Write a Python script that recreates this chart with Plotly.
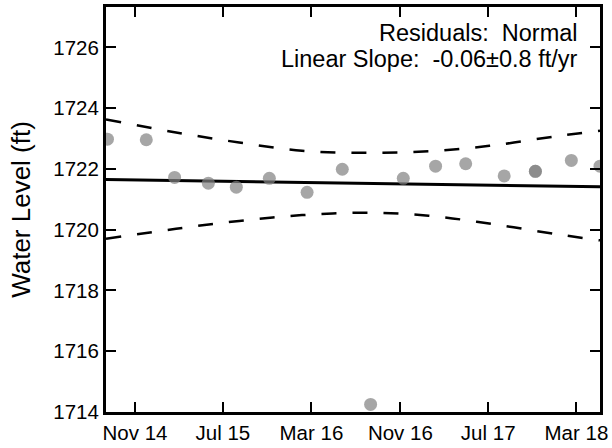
import plotly.graph_objects as go

# Observations
obs_dates = ["2014-08-17", "2014-12-02", "2015-02-18", "2015-05-22", "2015-08-07",
             "2015-11-06", "2016-02-18", "2016-05-25", "2016-08-11", "2016-11-09",
             "2017-02-06", "2017-04-30", "2017-08-14", "2017-11-08", "2017-11-08",
             "2018-02-15", "2018-05-05"]
obs_levels = [1722.98, 1722.96, 1721.72, 1721.53, 1721.40,
              1721.69, 1721.23, 1721.99, 1714.25, 1721.69,
              1722.09, 1722.17, 1721.77, 1721.92, 1721.92,
              1722.28, 1722.09]

# Linear trend (values at plot edges)
trend_dates = ["2014-08-13", "2018-05-05"]
trend_levels = [1721.65, 1721.41]

# Confidence band
band_dates = ["2014-08-13", "2015-02-22", "2015-08-15", "2016-02-04", "2016-07-28",
              "2017-01-18", "2017-07-11", "2018-01-01", "2018-05-05"]
band_upper = [1723.63, 1723.20, 1722.87, 1722.60, 1722.53,
              1722.58, 1722.77, 1723.07, 1723.26]
band_lower = [1719.70, 1720.03, 1720.29, 1720.48, 1720.56,
              1720.46, 1720.19, 1719.86, 1719.65]

tick_dates = ["2014-11-01", "2015-07-01", "2016-03-01", "2016-11-01", "2017-07-01", "2018-03-01"]
tick_labels = ["Nov 14", "Jul 15", "Mar 16", "Nov 16", "Jul 17", "Mar 18"]
y_ticks = [1714, 1716, 1718, 1720, 1722, 1724, 1726]

x_range = ["2014-08-13", "2018-05-05"]
y_range = [1714, 1727.33]

FONT = "Liberation Sans, Arial, Helvetica, sans-serif"

fig = go.Figure()
for vals in (band_upper, band_lower):
    fig.add_trace(go.Scatter(x=band_dates, y=vals, mode="lines",
                             line=dict(color="black", width=2.5, dash="15px,16px", shape="spline"),
                             hoverinfo="skip", showlegend=False))
fig.add_trace(go.Scatter(x=trend_dates, y=trend_levels, mode="lines",
                         line=dict(color="black", width=3), showlegend=False))
fig.add_trace(go.Scatter(x=obs_dates, y=obs_levels, mode="markers",
                         marker=dict(color="rgb(130,130,130)", opacity=0.71, size=13,
                                     line=dict(width=0)),
                         showlegend=False))

fig.update_layout(
    width=612, height=448,
    margin=dict(l=106, r=10, t=4, b=33),
    paper_bgcolor="white", plot_bgcolor="white",
    font=dict(family=FONT, size=20.5, color="black"),
    showlegend=False,
    annotations=[
        dict(text="Residuals:  Normal", xref="paper", yref="paper", x=0.959, y=0.935,
             xanchor="right", yanchor="middle", showarrow=False,
             font=dict(family=FONT, size=23.5, color="black")),
        dict(text="Linear Slope:  -0.06±0.8 ft/yr", xref="paper", yref="paper", x=0.959, y=0.872,
             xanchor="right", yanchor="middle", showarrow=False,
             font=dict(family=FONT, size=23.5, color="black")),
    ],
)
fig.update_xaxes(type="date", range=x_range, tickvals=tick_dates, ticktext=tick_labels,
                 showgrid=False, zeroline=False, showline=True, linecolor="black", linewidth=3,
                 mirror="ticks", ticks="inside", ticklen=10, tickwidth=1.5, tickcolor="black",
                 tickfont=dict(size=20.5))
fig.update_yaxes(range=y_range, tickvals=y_ticks, showgrid=False, zeroline=False,
                 showline=True, linecolor="black", linewidth=3, mirror="ticks",
                 ticks="inside", ticklen=10, tickwidth=1.5, tickcolor="black",
                 tickfont=dict(size=20.5),
                 title=dict(text="Water Level (ft)", font=dict(size=26), standoff=16))

fig.write_html("out.html", config={"displayModeBar": False},
               post_script="document.body.style.margin='0';document.body.style.overflow='hidden';")
